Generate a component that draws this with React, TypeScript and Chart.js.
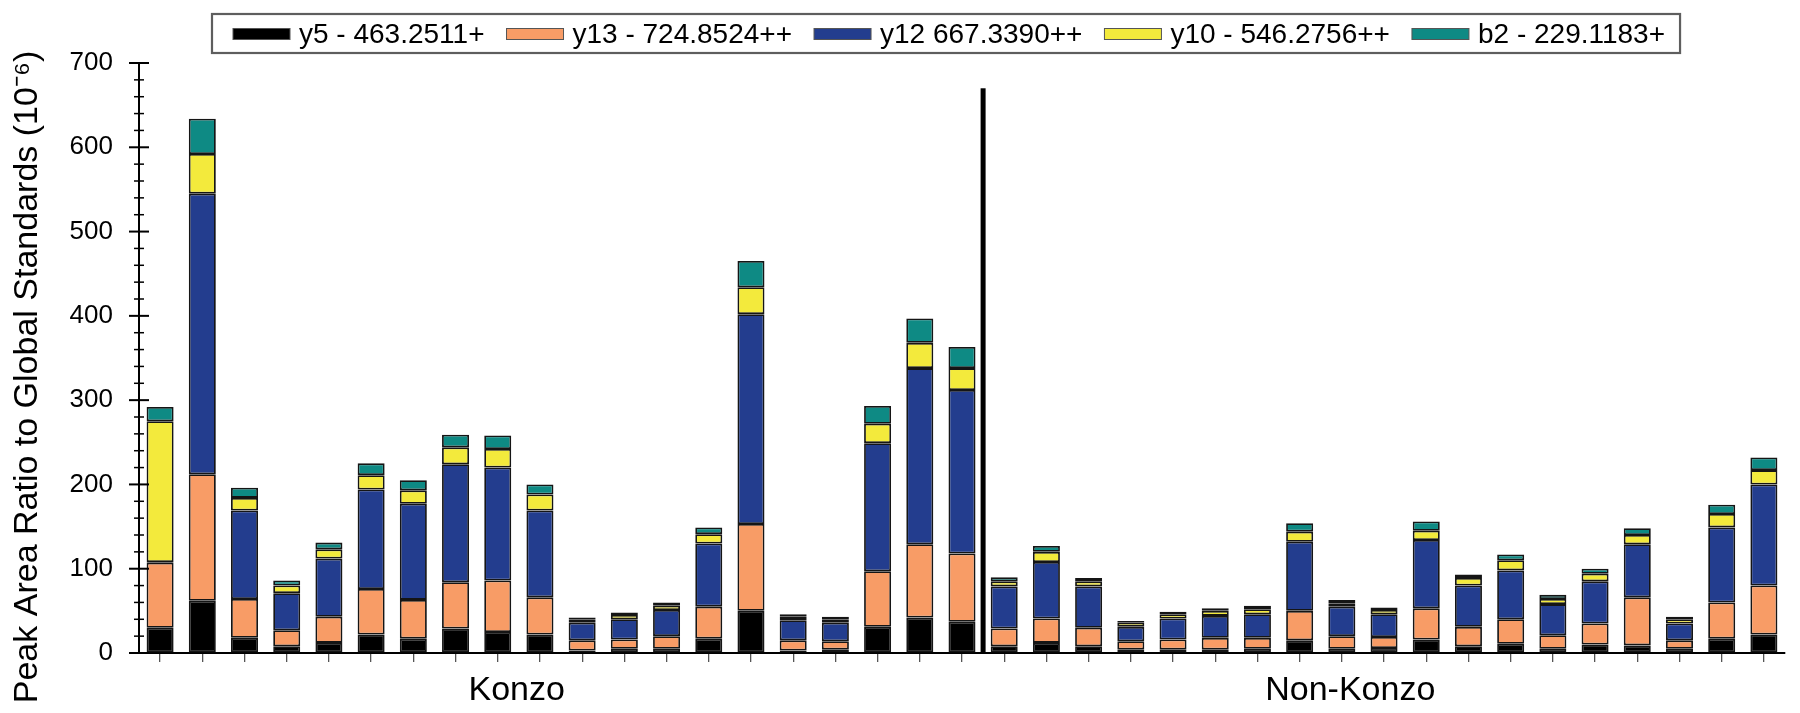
import React, { useEffect, useRef } from "react";
import { Chart, registerables } from "chart.js";

Chart.register(...registerables);

const FONT = '"Liberation Sans", Arial, Helvetica, sans-serif';

const categories = [
  "K1", "K2", "K3", "K4", "K5", "K6", "K7", "K8", "K9", "K10",
  "K11", "K12", "K13", "K14", "K15", "K16", "K17", "K18", "K19", "K20",
  "NK1", "NK2", "NK3", "NK4", "NK5", "NK6", "NK7", "NK8", "NK9", "NK10",
  "NK11", "NK12", "NK13", "NK14", "NK15", "NK16", "NK17", "NK18", "NK19",
];

const seriesLabels = [
  "y5 - 463.2511+",
  "y13 - 724.8524++",
  "y12 667.3390++",
  "y10 - 546.2756++",
  "b2 - 229.1183+",
];

const y5 = [30, 62, 18, 8, 12, 22, 17, 29, 25, 22, 3, 5, 5, 17, 50, 3, 4, 31, 42, 37, 8, 12, 8, 4, 4, 4, 5, 15, 5, 6, 16, 8, 11, 5, 10, 9, 5, 17, 22];
const y13 = [77, 150, 46, 19, 31, 54, 46, 55, 61, 44, 12, 11, 15, 38, 103, 12, 10, 66, 87, 81, 21, 29, 22, 10, 12, 14, 13, 35, 15, 13, 37, 23, 29, 16, 25, 57, 10, 43, 58];
const y12 = [1, 333, 105, 44, 69, 118, 114, 140, 134, 103, 21, 24, 31, 75, 249, 24, 22, 152, 209, 194, 50, 67, 49, 17, 25, 26, 28, 82, 35, 27, 81, 49, 58, 37, 50, 63, 20, 89, 120];
const y10 = [167, 47, 15, 9, 11, 17, 16, 20, 22, 19, 4, 5, 5, 11, 32, 4, 4, 23, 30, 26, 6, 12, 6, 5, 5, 6, 6, 12, 4, 5, 11, 9, 12, 6, 9, 11, 5, 16, 17];
const b2 = [17, 42, 12, 6, 8, 14, 12, 15, 16, 12, 2, 3, 4, 8, 31, 3, 3, 21, 29, 25, 5, 7, 4, 2, 3, 3, 4, 10, 4, 3, 11, 4, 7, 5, 6, 8, 3, 11, 15];

const seriesValues = [y5, y13, y12, y10, b2];
const seriesColors = ["#000000", "#F89C66", "#233D8E", "#F3EA3C", "#0E8A84"];

const yMin = 0;
const yMax = 700;
const yMajorStep = 100;
const yMinorStep = 20;

const yTitle = "Peak Area Ratio to Global Standards (10\u207B\u2076)";
const groupLabels = ["Konzo", "Non-Konzo"];
const groupLabelAt = [8.45, 28.2];
const separatorAt = 19.5;
const separatorTop = 670;

const decorPlugin = {
  id: "decor",
  afterDatasetsDraw(chart: any) {
    const { ctx, scales } = chart;
    const x = scales.x;
    const y = scales.y;
    ctx.save();
    const sx = x.getPixelForValue(separatorAt);
    const p0 = y.getPixelForValue(0);
    const p1 = y.getPixelForValue(separatorTop);
    ctx.fillStyle = "#000";
    ctx.fillRect(sx - 2.5, p1, 5, p0 - p1);
    ctx.restore();
  },
  afterDraw(chart: any) {
    const { ctx, scales, chartArea } = chart;
    const x = scales.x;
    const y = scales.y;
    ctx.save();

    // y-axis major/minor tick marks crossing the axis
    const ax = chartArea.left;
    ctx.strokeStyle = "#000";
    for (let v = yMin; v <= yMax; v += yMinorStep) {
      const py = y.getPixelForValue(v);
      const major = v % yMajorStep === 0;
      const half = major ? 10 : 5;
      ctx.lineWidth = major ? 2 : 1.5;
      ctx.beginPath();
      ctx.moveTo(ax - half, py);
      ctx.lineTo(ax + half, py);
      ctx.stroke();
    }

    // group labels
    ctx.fillStyle = "#000";
    ctx.font = `34px ${FONT}`;
    ctx.textAlign = "center";
    ctx.textBaseline = "middle";
    groupLabels.forEach((lab, i) => {
      ctx.fillText(lab, x.getPixelForValue(groupLabelAt[i]), 683);
    });

    // y-axis title
    ctx.save();
    ctx.translate(20, 369);
    ctx.rotate(-Math.PI / 2);
    ctx.font = `34px ${FONT}`;
    ctx.textAlign = "center";
    ctx.textBaseline = "middle";
    ctx.fillText(yTitle, 0, 0);
    ctx.restore();

    // legend
    ctx.font = `28px ${FONT}`;
    ctx.textAlign = "left";
    ctx.textBaseline = "middle";
    const sw = 57, sh = 11, gapT = 9, gapI = 22, padL = 21, padR = 15;
    const items = chart.data.datasets.map((d: any) => ({
      label: d.label,
      color: d.backgroundColor,
      w: ctx.measureText(d.label).width,
    }));
    const total =
      padL + padR +
      items.reduce((a: number, it: any) => a + sw + gapT + it.w, 0) +
      gapI * (items.length - 1);
    const boxLeft = 204;
    const boxTop = 6;
    const boxH = 39;
    const cy = 26;
    ctx.fillStyle = "#fff";
    ctx.fillRect(boxLeft, boxTop, total, boxH);
    ctx.strokeStyle = "#5e5e5e";
    ctx.lineWidth = 2.2;
    ctx.strokeRect(boxLeft, boxTop, total, boxH);
    let cx = boxLeft + padL;
    items.forEach((it: any) => {
      ctx.fillStyle = it.color;
      ctx.fillRect(cx, cy - sh / 2, sw, sh);
      ctx.strokeStyle = "#555";
      ctx.lineWidth = 1;
      ctx.strokeRect(cx, cy - sh / 2, sw, sh);
      ctx.fillStyle = "#000";
      ctx.fillText(it.label, cx + sw + gapT, cy + 1);
      cx += sw + gapT + it.w + gapI;
    });

    ctx.restore();
  },
};

export default function App() {
  const ref = useRef<HTMLCanvasElement | null>(null);

  useEffect(() => {
    if (!ref.current) return;
    const chart = new Chart(ref.current, {
      type: "bar",
      data: {
        labels: categories,
        datasets: seriesValues.map((vals, i) => ({
          label: seriesLabels[i],
          data: vals,
          backgroundColor: seriesColors[i],
          borderColor: "#151515",
          borderWidth: 1.8,
          borderSkipped: false,
          barPercentage: 0.64,
          categoryPercentage: 1,
        })),
      },
      options: {
        responsive: false,
        animation: false,
        layout: { padding: { top: 55, right: 7, bottom: 0, left: 0 } },
        plugins: {
          legend: { display: false },
          tooltip: { enabled: false },
          title: { display: false },
        },
        scales: {
          x: {
            stacked: true,
            offset: true,
            afterFit: (s: any) => {
              s.height = 52;
            },
            ticks: { display: false },
            grid: {
              display: true,
              offset: false,
              drawOnChartArea: false,
              drawTicks: true,
              tickLength: 9,
              color: "#555",
              lineWidth: 1.3,
            },
            border: { display: true, color: "#000", width: 2 },
          },
          y: {
            stacked: true,
            min: yMin,
            max: yMax,
            afterFit: (s: any) => {
              s.width = 131;
            },
            ticks: {
              stepSize: yMajorStep,
              color: "#000",
              padding: 26,
              font: { size: 26, family: FONT },
            },
            grid: { display: true, drawOnChartArea: false, drawTicks: false },
            border: { display: true, color: "#000", width: 2 },
          },
        },
      },
      plugins: [decorPlugin],
    });
    return () => chart.destroy();
  }, []);

  return (
    <div style={{ width: 1784, height: 697 }}>
      <canvas ref={ref} width={1784} height={697} style={{ width: 1784, height: 697, display: "block" }} />
    </div>
  );
}
